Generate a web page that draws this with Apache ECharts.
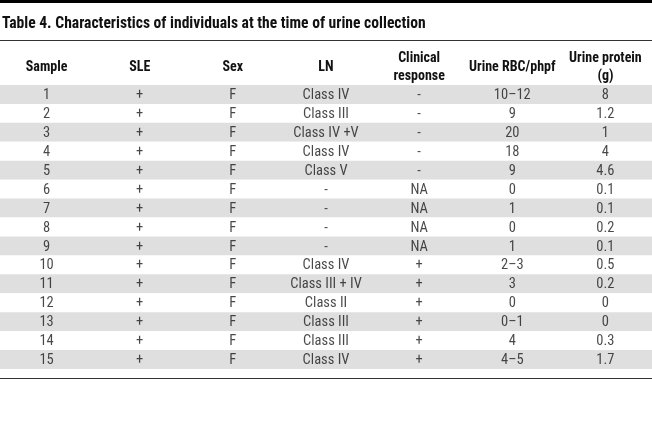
<!DOCTYPE html>
<html><head><meta charset="utf-8">
<script src="https://cdn.jsdelivr.net/npm/echarts@6/dist/echarts.min.js"></script>
<style>html,body{margin:0;padding:0;background:#fff}#c{width:652px;height:432px}</style>
</head><body><div id="c"></div>
<script>
const headers = ['Sample','SLE','Sex','LN','Clinical\nresponse','Urine RBC/phpf','Urine protein\n(g)'];
const sample = ['1','2','3','4','5','6','7','8','9','10','11','12','13','14','15'];
const sle = ['+','+','+','+','+','+','+','+','+','+','+','+','+','+','+'];
const sex = ['F','F','F','F','F','F','F','F','F','F','F','F','F','F','F'];
const ln = ['Class IV','Class III','Class IV +V','Class IV','Class V','-','-','-','-','Class IV','Class III + IV','Class II','Class III','Class III','Class IV'];
const clinical = ['-','-','-','-','-','NA','NA','NA','NA','+','+','+','+','+','+'];
const rbc = ['10–12','9','20','18','9','0','1','0','1','2–3','3','0','0–1','4','4–5'];
const protein = ['8','1.2','1','4','4.6','0.1','0.1','0.2','0.1','0.5','0.2','0','0','0.3','1.7'];
const titleText = 'Table 4. Characteristics of individuals at the time of urine collection';

const FONT = "'Roboto Condensed',sans-serif";
const columns = [sample, sle, sex, ln, clinical, rbc, protein];
const cells = [];
columns.forEach((col, ci) => col.forEach((v, ri) => cells.push([ci, ri, v])));

const chart = echarts.init(document.getElementById('c'));
chart.setOption({
  animation: false,
  title: { text: titleText, left: 2, top: 16, padding: 0, textStyle: { fontFamily: FONT, fontWeight: 'bold', fontSize: 15.6, color: '#111' } },
  grid: { left: 0, right: 0, top: 85, bottom: 63, outerBoundsMode: 'none', containLabel: false },
  xAxis: {
    type: 'category', position: 'top', data: headers,
    axisLine: { show: false }, axisTick: { show: false },
    axisLabel: { margin: 18, verticalAlign: 'middle', fontFamily: FONT, fontWeight: 'bold', fontSize: 14, color: '#111', lineHeight: 18, interval: 0 }
  },
  yAxis: {
    type: 'category', inverse: true, data: sample,
    axisLine: { show: false }, axisTick: { show: false }, axisLabel: { show: false },
    splitArea: { show: true, areaStyle: { color: ['#dfdfdf', '#ffffff'] } }
  },
  graphic: [
    { type: 'rect', shape: { x: 0, y: 0, width: 652, height: 3 }, style: { fill: '#000' } },
    { type: 'line', shape: { x1: 0, y1: 40.5, x2: 652, y2: 40.5 }, style: { stroke: '#333', lineWidth: 1 } },
    { type: 'line', shape: { x1: 0, y1: 378.5, x2: 652, y2: 378.5 }, style: { stroke: '#333', lineWidth: 1 } }
  ],
  series: [{
    type: 'scatter', data: cells, symbolSize: 0, silent: true,
    label: { show: true, position: 'inside', offset: [0, 1], formatter: p => p.value[2], fontFamily: FONT, fontSize: 14.5, color: '#1a1a1a' }
  }]
});
</script></body></html>
